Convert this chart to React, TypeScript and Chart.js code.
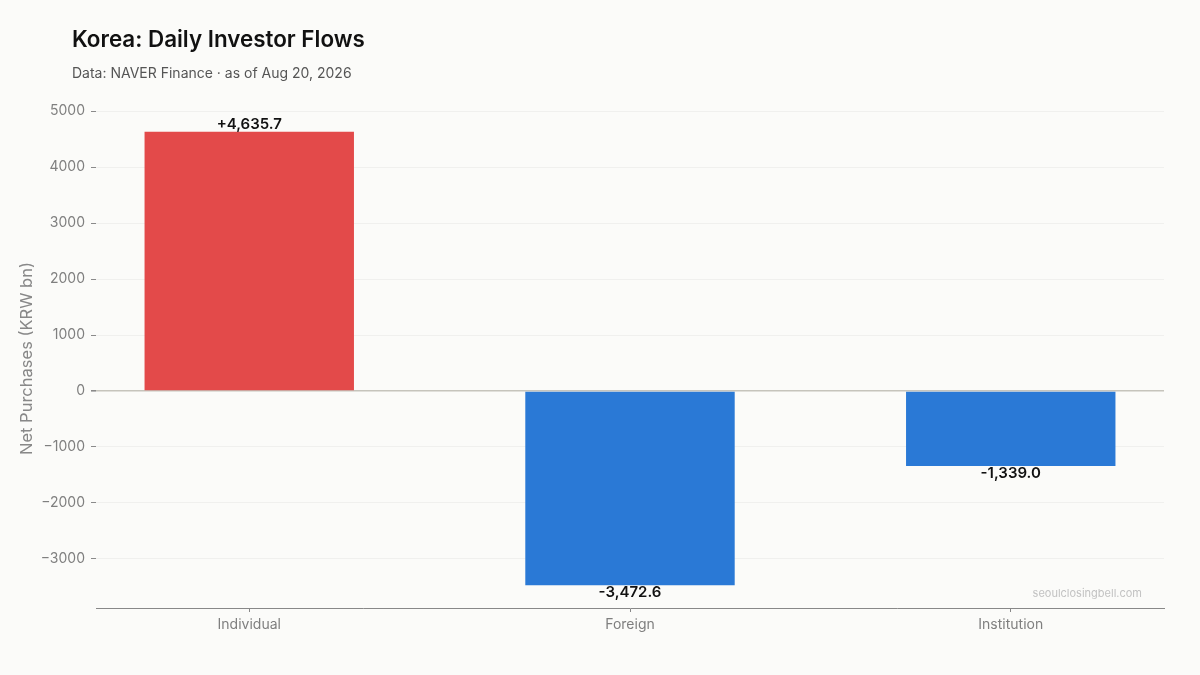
import React, { useEffect, useRef } from "react";
import { Chart, registerables } from "chart.js";

Chart.register(...registerables);

const categories: string[] = ["Individual", "Foreign", "Institution"];
const netPurchases: number[] = [4635.7, -3472.6, -1339.0];
const yTickValues: number[] = [-3000, -2000, -1000, 0, 1000, 2000, 3000, 4000, 5000];
const yMin = -3878;
const yMax = 5041;

const TITLE = "Korea: Daily Investor Flows";
const SUBTITLE = "Data: NAVER Finance \u00b7 as of Aug 20, 2026";
const Y_TITLE = "Net Purchases (KRW bn)";
const WATERMARK = "seoulclosingbell.com";

const FONT = "Inter, 'DejaVu Sans', sans-serif";
const POS_COLOR = "#e34a4a";
const NEG_COLOR = "#2a79d6";
const BG = "#fbfbf9";

function fmtValue(v: number): string {
  const s = Math.abs(v).toLocaleString("en-US", { minimumFractionDigits: 1, maximumFractionDigits: 1 });
  return (v >= 0 ? "+" : "-") + s;
}

const overlayPlugin = {
  id: "overlay",
  beforeDraw(chart: any) {
    const ctx = chart.ctx;
    ctx.save();
    ctx.fillStyle = BG;
    ctx.fillRect(0, 0, chart.width, chart.height);
    ctx.restore();
  },
  afterDatasetsDraw(chart: any) {
    const ctx = chart.ctx;
    const meta = chart.getDatasetMeta(0);
    ctx.save();
    ctx.font = `600 15px ${FONT}`;
    ctx.fillStyle = "#111111";
    ctx.textAlign = "center";
    ctx.textBaseline = "alphabetic";
    meta.data.forEach((bar: any, i: number) => {
      const v = netPurchases[i];
      const y = v >= 0 ? bar.y - 3 : bar.y + 12;
      ctx.fillText(fmtValue(v), bar.x, y);
    });
    ctx.restore();
  },
  afterDraw(chart: any) {
    const ctx = chart.ctx;
    const area = chart.chartArea;
    ctx.save();
    ctx.textAlign = "left";
    ctx.textBaseline = "alphabetic";
    ctx.fillStyle = "#111111";
    ctx.font = `600 22.4px ${FONT}`;
    ctx.fillText(TITLE, 72, 47);
    ctx.fillStyle = "#555555";
    ctx.font = `400 14px ${FONT}`;
    ctx.fillText(SUBTITLE, 72, 78);
    ctx.textAlign = "right";
    ctx.fillStyle = "#c2c2c2";
    ctx.font = `400 11px ${FONT}`;
    ctx.fillText(WATERMARK, area.right - 22, area.bottom - 11);
    ctx.restore();
  },
};

export default function App() {
  const ref = useRef<HTMLCanvasElement | null>(null);

  useEffect(() => {
    document.body.style.margin = "0";
    document.body.style.background = BG;
    if (!ref.current) return;
    Chart.defaults.font.family = FONT;
    const chart = new Chart(ref.current, {
      type: "bar",
      data: {
        datasets: [
          {
            data: netPurchases.map((v, i) => ({ x: i, y: v })),
            backgroundColor: netPurchases.map((v) => (v >= 0 ? POS_COLOR : NEG_COLOR)),
            borderWidth: 0,
            barPercentage: 0.55,
            categoryPercentage: 1,
          },
        ],
      },
      options: {
        animation: false,
        responsive: false,
        devicePixelRatio: 1,
        layout: { padding: { left: 0, top: 109, right: 36, bottom: 0 } },
        plugins: {
          legend: { display: false },
          tooltip: { enabled: false },
        },
        scales: {
          x: {
            type: "linear",
            min: -0.4025,
            max: 2.4025,
            offset: false,
            afterBuildTicks: (scale: any) => {
              scale.ticks = categories.map((_, i) => ({ value: i }));
            },
            afterFit: (scale: any) => {
              scale.height = 67;
            },
            ticks: {
              callback: (value: any) => categories[Number(value)] ?? "",
              color: "#7f7f7f",
              font: { size: 14, family: FONT },
              padding: 4,
              maxRotation: 0,
              autoSkip: false,
            },
            grid: {
              display: true,
              drawOnChartArea: false,
              drawTicks: true,
              tickLength: 4,
              tickColor: "#888888",
              offset: false,
            },
            border: { display: true, color: "#888888", width: 1 },
          },
          y: {
            type: "linear",
            min: yMin,
            max: yMax,
            afterBuildTicks: (scale: any) => {
              scale.ticks = yTickValues.map((v) => ({ value: v }));
            },
            afterFit: (scale: any) => {
              scale.width = 96;
            },
            ticks: {
              callback: (value: any) => {
                const n = Number(value);
                return n < 0 ? "\u2212" + Math.abs(n) : String(n);
              },
              color: "#7f7f7f",
              font: { size: 14, family: FONT },
              padding: 6,
            },
            grid: {
              color: (c: any) => (c.tick && c.tick.value === 0 ? "#c6c4bc" : "#f0f0ee"),
              lineWidth: (c: any) => (c.tick && c.tick.value === 0 ? 1.6 : 1),
              tickColor: "#8a8a8a",
              tickLength: 5,
              drawTicks: true,
            },
            border: { display: false },
            title: {
              display: true,
              text: Y_TITLE,
              color: "#888888",
              font: { size: 16.5, family: FONT },
              padding: { top: 17, bottom: 0 },
            },
          },
        },
      },
      plugins: [overlayPlugin],
    } as any);
    return () => chart.destroy();
  }, []);

  return (
    <div style={{ position: "relative", width: 1200, height: 675, background: BG }}>
      <canvas ref={ref} width={1200} height={675} />
    </div>
  );
}
